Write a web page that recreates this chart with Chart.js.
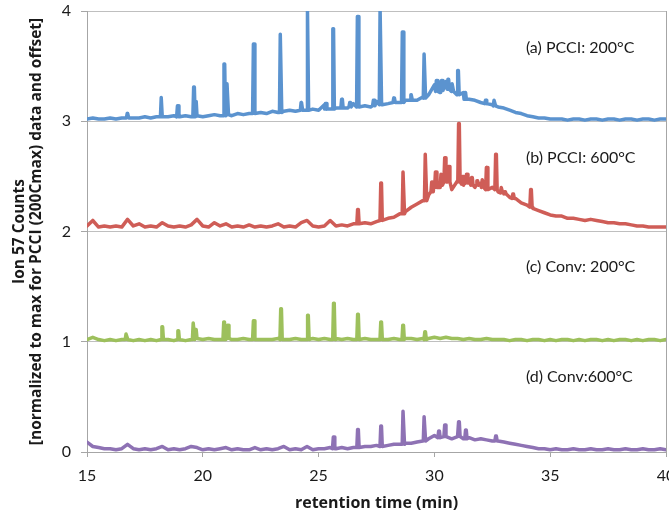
<!DOCTYPE html>
<html>
<head>
<meta charset="utf-8">
<script src="https://cdn.jsdelivr.net/npm/chart.js@4"></script>
<style>
  html, body { margin: 0; padding: 0; background: #fff; }
  #wrap { width: 669px; height: 513px; }
</style>
</head>
<body>
<div id="wrap"><canvas id="chrom"></canvas></div>
<script>
// retention time grid for the baselines (min)
const tStart = 15;
const tStep = 0.25;

// baseline traces, one value per 0.25 min from 15 to 40 (already offset)
const pcci200Base = [
    3.02, 3.03, 3.02, 3.02, 3.03, 3.02, 3.03, 3.06, 3.03, 3.03,
    3.04, 3.03, 3.04, 3.04, 3.04, 3.05, 3.04, 3.05, 3.04, 3.05,
    3.04, 3.05, 3.06, 3.05, 3.06, 3.05, 3.07, 3.06, 3.07, 3.07,
    3.08, 3.07, 3.09, 3.08, 3.09, 3.10, 3.09, 3.16, 3.10, 3.11,
    3.10, 3.15, 3.11, 3.12, 3.19, 3.12, 3.16, 3.13, 3.14, 3.13,
    3.18, 3.15, 3.16, 3.20, 3.17, 3.19, 3.24, 3.19, 3.22, 3.24,
    3.33, 3.26, 3.36, 3.29, 3.24, 3.26, 3.20, 3.19, 3.17, 3.19,
    3.15, 3.13, 3.12, 3.10, 3.08, 3.07, 3.05, 3.04, 3.03, 3.03,
    3.02, 3.02, 3.02, 3.01, 3.02, 3.02, 3.01, 3.02, 3.02, 3.01,
    3.02, 3.02, 3.01, 3.02, 3.02, 3.01, 3.02, 3.02, 3.01, 3.02, 3.02
];
const pcci600Base = [
    2.05, 2.10, 2.04, 2.05, 2.04, 2.05, 2.04, 2.11, 2.05, 2.07,
    2.04, 2.05, 2.04, 2.08, 2.05, 2.04, 2.05, 2.04, 2.06, 2.11,
    2.05, 2.04, 2.08, 2.05, 2.07, 2.04, 2.05, 2.04, 2.06, 2.04,
    2.05, 2.04, 2.05, 2.07, 2.04, 2.05, 2.04, 2.08, 2.10, 2.05,
    2.04, 2.05, 2.10, 2.05, 2.06, 2.05, 2.07, 2.07, 2.08, 2.07,
    2.09, 2.10, 2.12, 2.13, 2.16, 2.18, 2.22, 2.25, 2.28, 2.33,
    2.45, 2.40, 2.50, 2.38, 2.46, 2.42, 2.48, 2.40, 2.44, 2.38,
    2.40, 2.36, 2.35, 2.31, 2.30, 2.26, 2.24, 2.21, 2.19, 2.17,
    2.15, 2.14, 2.14, 2.12, 2.12, 2.11, 2.10, 2.11, 2.10, 2.09,
    2.08, 2.08, 2.07, 2.07, 2.06, 2.05, 2.05, 2.04, 2.04, 2.04, 2.04
];
const conv200Base = [
    1.02, 1.04, 1.02, 1.01, 1.02, 1.01, 1.02, 1.03, 1.01, 1.02,
    1.01, 1.02, 1.01, 1.02, 1.02, 1.01, 1.02, 1.01, 1.02, 1.03,
    1.02, 1.03, 1.02, 1.02, 1.03, 1.02, 1.02, 1.03, 1.02, 1.02,
    1.02, 1.02, 1.02, 1.03, 1.02, 1.02, 1.03, 1.02, 1.02, 1.03,
    1.02, 1.03, 1.02, 1.03, 1.02, 1.03, 1.02, 1.02, 1.03, 1.02,
    1.02, 1.03, 1.02, 1.03, 1.02, 1.03, 1.03, 1.02, 1.03, 1.03,
    1.04, 1.03, 1.04, 1.03, 1.03, 1.02, 1.03, 1.02, 1.02, 1.03,
    1.02, 1.02, 1.02, 1.01, 1.02, 1.02, 1.01, 1.02, 1.02, 1.01,
    1.02, 1.01, 1.02, 1.02, 1.01, 1.02, 1.01, 1.02, 1.02, 1.01,
    1.02, 1.01, 1.02, 1.02, 1.01, 1.02, 1.01, 1.02, 1.02, 1.01, 1.02
];
const conv600Base = [
    0.09, 0.05, 0.04, 0.03, 0.03, 0.02, 0.03, 0.07, 0.03, 0.02,
    0.03, 0.02, 0.03, 0.05, 0.02, 0.03, 0.02, 0.03, 0.05, 0.04,
    0.02, 0.03, 0.02, 0.03, 0.04, 0.02, 0.03, 0.02, 0.02, 0.04,
    0.02, 0.03, 0.02, 0.03, 0.05, 0.02, 0.03, 0.02, 0.05, 0.02,
    0.03, 0.03, 0.04, 0.03, 0.04, 0.03, 0.04, 0.04, 0.05, 0.05,
    0.06, 0.05, 0.06, 0.07, 0.07, 0.08, 0.08, 0.09, 0.10, 0.12,
    0.15, 0.13, 0.14, 0.12, 0.14, 0.12, 0.13, 0.11, 0.12, 0.11,
    0.10, 0.10, 0.09, 0.08, 0.07, 0.06, 0.05, 0.04, 0.03, 0.03,
    0.02, 0.03, 0.02, 0.02, 0.03, 0.02, 0.02, 0.03, 0.02, 0.02,
    0.03, 0.02, 0.02, 0.03, 0.02, 0.02, 0.03, 0.02, 0.02, 0.03, 0.02
];

// sharp peaks: [retention time, foot level, apex]
const pcci200Peaks = [
    [16.75, 3.03, 3.07], [18.22, 3.04, 3.215], [18.92, 3.04, 3.14], [19.62, 3.04, 3.31],
    [19.73, 3.05, 3.18], [20.93, 3.05, 3.52], [21.06, 3.06, 3.34], [22.20, 3.07, 3.70],
    [23.36, 3.08, 3.79], [24.26, 3.10, 3.17], [24.52, 3.10, 4.00], [25.31, 3.11, 3.16],
    [25.63, 3.11, 3.84], [26.01, 3.12, 3.20], [26.36, 3.13, 3.17], [26.69, 3.13, 3.95],
    [27.38, 3.14, 3.19], [27.67, 3.15, 4.02], [28.26, 3.17, 3.21], [28.63, 3.17, 3.81],
    [29.00, 3.19, 3.24], [29.57, 3.21, 3.61], [30.10, 3.27, 3.37], [30.32, 3.28, 3.37],
    [30.60, 3.29, 3.38], [30.78, 3.27, 3.34], [31.02, 3.24, 3.46], [31.33, 3.20, 3.26],
    [32.22, 3.16, 3.19], [32.59, 3.14, 3.19]
];
const pcci600Peaks = [
    [26.70, 2.07, 2.20], [27.70, 2.10, 2.44], [28.66, 2.16, 2.54], [29.62, 2.28, 2.70],
    [29.90, 2.36, 2.45], [30.06, 2.40, 2.54], [30.30, 2.42, 2.52], [30.46, 2.45, 2.67],
    [30.62, 2.45, 2.59], [31.06, 2.45, 2.98], [31.22, 2.43, 2.50], [31.40, 2.44, 2.52],
    [31.62, 2.42, 2.49], [31.85, 2.42, 2.46], [32.08, 2.40, 2.47], [32.26, 2.38, 2.58],
    [32.66, 2.38, 2.70], [32.90, 2.35, 2.40], [33.05, 2.34, 2.36], [33.40, 2.30, 2.34],
    [34.17, 2.22, 2.38]
];
const conv200Peaks = [
    [16.70, 1.02, 1.07], [18.25, 1.02, 1.135], [18.94, 1.02, 1.10], [19.60, 1.02, 1.17],
    [19.70, 1.03, 1.11], [20.92, 1.02, 1.18], [21.08, 1.03, 1.15], [22.20, 1.02, 1.19],
    [23.38, 1.02, 1.30], [24.54, 1.02, 1.24], [25.66, 1.02, 1.35], [26.70, 1.02, 1.25],
    [27.70, 1.02, 1.18], [28.65, 1.02, 1.15], [29.60, 1.02, 1.09]
];
const conv600Peaks = [
    [25.65, 0.03, 0.135], [26.70, 0.04, 0.205], [27.70, 0.05, 0.235], [28.66, 0.07, 0.37],
    [29.57, 0.10, 0.32], [30.20, 0.13, 0.19], [30.46, 0.14, 0.245], [31.06, 0.14, 0.275],
    [31.36, 0.12, 0.20], [32.66, 0.10, 0.145]
];

const seriesLabels = ['(a) PCCI: 200°C', '(b) PCCI: 600°C', '(c) Conv: 200°C', '(d) Conv:600°C'];
const xTicks = [15, 20, 25, 30, 35, 40];
const yTicks = [0, 1, 2, 3, 4];

function buildTrace(base, peaks) {
    let pts = base.map((y, i) => ({x: tStart + i * tStep, y: y}));
    peaks.forEach(([t, foot, apex]) => {
        pts.push({x: t - 0.05, y: foot}, {x: t - 0.015, y: apex}, {x: t + 0.015, y: apex}, {x: t + 0.05, y: foot});
    });
    pts.sort((a, b) => a.x - b.x);
    return pts;
}

// labels sit at fixed spots inside the plot, next to each trace
const labelPlugin = {
    id: 'traceLabels',
    afterDatasetsDraw(chart) {
        const ctx = chart.ctx;
        const xs = chart.scales.x, ys = chart.scales.y;
        const spots = [3.67, 2.67, 1.68, 0.68];
        ctx.save();
        ctx.font = '16px Lato';
        ctx.fillStyle = '#1a1a1a';
        ctx.textBaseline = 'middle';
        seriesLabels.forEach((txt, i) => {
            ctx.fillText(txt, xs.getPixelForValue(33.95), ys.getPixelForValue(spots[i]));
        });
        ctx.restore();
    }
};

const ctx = document.getElementById('chrom').getContext('2d');
const colors = ['#5b93cf', '#cf5d57', '#9dc05c', '#8e72b4'];
const traces = [
    buildTrace(pcci200Base, pcci200Peaks),
    buildTrace(pcci600Base, pcci600Peaks),
    buildTrace(conv200Base, conv200Peaks),
    buildTrace(conv600Base, conv600Peaks)
];

new Chart(ctx, {
    type: 'line',
    data: {
        datasets: traces.map((d, i) => ({
            label: seriesLabels[i],
            data: d,
            borderColor: colors[i],
            borderWidth: 3.5,
            borderJoinStyle: 'round',
            borderCapStyle: 'round',
            pointRadius: 0,
            tension: 0,
            fill: false
        }))
    },
    options: {
        responsive: true,
        maintainAspectRatio: false,
        animation: false,
        layout: { padding: { top: 11, right: 3, left: 0, bottom: 0 } },
        plugins: {
            legend: { display: false },
            tooltip: { enabled: false }
        },
        scales: {
            x: {
                type: 'linear',
                min: 15,
                max: 40,
                afterBuildTicks: (s) => { s.ticks = xTicks.map(v => ({value: v})); },
                afterFit: (s) => { s.height = 61; s.paddingLeft = 0; s.paddingRight = 0; },
                ticks: { color: '#1a1a1a', font: { family: 'Lato', size: 16 }, padding: 9, maxRotation: 0 },
                grid: {
                    color: (c) => (c.tick && c.tick.value === 40 ? '#a6a6a6' : 'rgba(0,0,0,0)'),
                    tickColor: '#a6a6a6',
                    tickLength: 5
                },
                border: { color: '#a6a6a6' },
                title: {
                    display: true,
                    text: 'retention time (min)',
                    color: '#1a1a1a',
                    font: { family: 'Open Sans', size: 16, weight: 'bold' },
                    padding: { top: 0, bottom: 0 }
                }
            },
            y: {
                min: 0,
                max: 4,
                afterBuildTicks: (s) => { s.ticks = yTicks.map(v => ({value: v})); },
                afterFit: (s) => { s.width = 87; s.paddingTop = 0; s.paddingBottom = 0; },
                ticks: { color: '#1a1a1a', font: { family: 'Lato', size: 16 }, padding: 10 },
                grid: { color: '#bfbfbf', tickColor: '#a6a6a6', tickLength: 6 },
                border: { color: '#a6a6a6' },
                title: {
                    display: true,
                    text: ['Ion 57 Counts', '[normalized to max for PCCI (200Cmax) data and offset]'],
                    color: '#1a1a1a',
                    font: { family: 'Open Sans', size: 15.5, weight: 'bold', lineHeight: '17px' },
                    padding: { top: 11.5, bottom: 0 }
                }
            }
        }
    },
    plugins: [labelPlugin]
});
</script>
</body>
</html>
